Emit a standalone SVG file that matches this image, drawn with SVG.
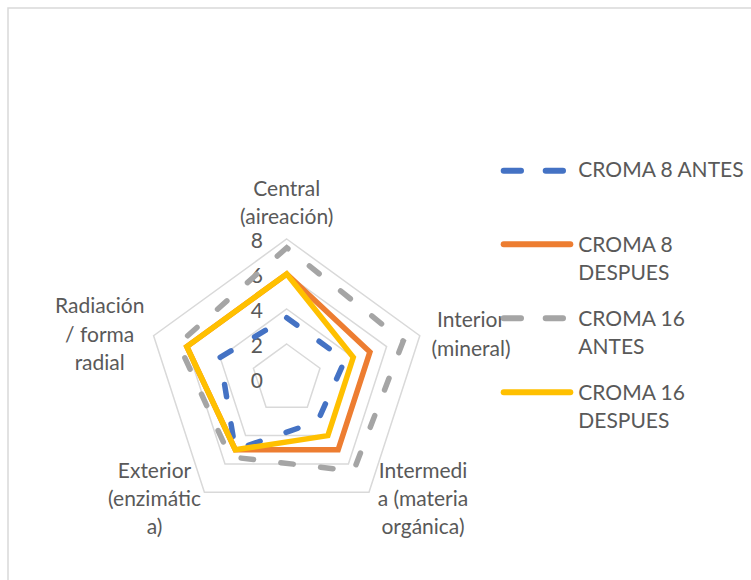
<svg xmlns="http://www.w3.org/2000/svg" width="751" height="580" viewBox="0 0 751 580">
<style>
.lbl{font-family:Lato,"Liberation Sans",sans-serif;font-size:21px;fill:#595959}
.grid{fill:none;stroke:#d9d9d9;stroke-width:1.5}
.s{fill:none;stroke-width:5.5;stroke-linejoin:miter}
.d{stroke-linecap:round;stroke-dasharray:12.5 27.5}
.leg{fill:none;stroke-width:6;stroke-linecap:round}
</style>
<rect x="0" y="0" width="751" height="580" fill="#ffffff"/>
<rect x="8" y="8" width="800" height="640" fill="#ffffff" stroke="#d9d9d9" stroke-width="1.5"/>
<g id="grid">
<polygon class="grid" points="286.7,344 320.0,368.2 307.3,407.3 266.1,407.3 253.4,368.2"/>
<polygon class="grid" points="286.7,309 353.3,357.4 327.8,435.6 245.6,435.6 220.1,357.4"/>
<polygon class="grid" points="286.7,274 386.6,346.6 348.4,463.9 225.0,463.9 186.8,346.6"/>
<polygon class="grid" points="286.7,239 419.8,335.7 369.0,492.3 204.4,492.3 153.6,335.7"/>
</g>
<g id="axis-values" class="lbl" text-anchor="end">
<text x="263" y="248">8</text>
<text x="263" y="283">6</text>
<text x="263" y="318">4</text>
<text x="263" y="353">2</text>
<text x="263" y="388">0</text>
</g>
<g id="series">
<path id="croma8antes" class="s d" stroke="#4472c4" d="M286.7,317.75 L344.95,360.07 L317.56,421.47 L235.27,449.79 L220.13,357.37 Z"/>
<path id="croma8despues" class="s" stroke="#ed7d31" d="M286.7,274 L369.92,351.96 L338.13,449.79 L235.27,449.79 L186.84,346.55 Z"/>
<path id="croma16antes" class="s d" stroke="#a5a5a5" d="M286.7,247.75 L178.52,343.85 L230.13,456.87 L353.56,471.03 L403.2,341.15 Z"/>
<path id="croma16despues" class="s" stroke="#ffc000" d="M286.7,274 L353.27,357.37 L327.85,435.63 L235.27,449.79 L186.84,346.55 Z"/>
</g>
<g id="category-labels" class="lbl" text-anchor="middle">
<g id="cat-central"><text x="286.7" y="196">Central</text><text x="286.7" y="224">(aireación)</text></g>
<g id="cat-interior"><text x="471" y="327">Interior</text><text x="471" y="356">(mineral)</text></g>
<g id="cat-intermedia"><text x="423" y="478">Intermedi</text><text x="423" y="506">a (materia</text><text x="423" y="534">orgánica)</text></g>
<g id="cat-exterior"><text x="154.5" y="478">Exterior</text><text x="154.5" y="506">(enzimátic</text><text x="154.5" y="534">a)</text></g>
<g id="cat-radiacion"><text x="99.7" y="313">Radiación</text><text x="99.7" y="342">/ forma</text><text x="99.7" y="370">radial</text></g>
</g>
<g id="legend">
<g id="leg-croma8antes"><line class="leg" stroke="#4472c4" stroke-dasharray="17.3 24.7" x1="503.7" y1="170.7" x2="570.3" y2="170.7"/><text class="lbl" x="578.3" y="177.3">CROMA 8 ANTES</text></g>
<g id="leg-croma8despues"><line class="leg" stroke="#ed7d31" x1="503.7" y1="244.3" x2="570.3" y2="244.3"/><text class="lbl" x="578.3" y="251.7">CROMA 8</text><text class="lbl" x="578.3" y="280">DESPUES</text></g>
<g id="leg-croma16antes"><line class="leg" stroke="#a5a5a5" stroke-dasharray="17.3 24.7" x1="503.7" y1="318.3" x2="570.3" y2="318.3"/><text class="lbl" x="578.3" y="326">CROMA 16</text><text class="lbl" x="578.3" y="354">ANTES</text></g>
<g id="leg-croma16despues"><line class="leg" stroke="#ffc000" x1="503.7" y1="392.3" x2="570.3" y2="392.3"/><text class="lbl" x="578.3" y="400">CROMA 16</text><text class="lbl" x="578.3" y="428.3">DESPUES</text></g>
</g>
</svg>
